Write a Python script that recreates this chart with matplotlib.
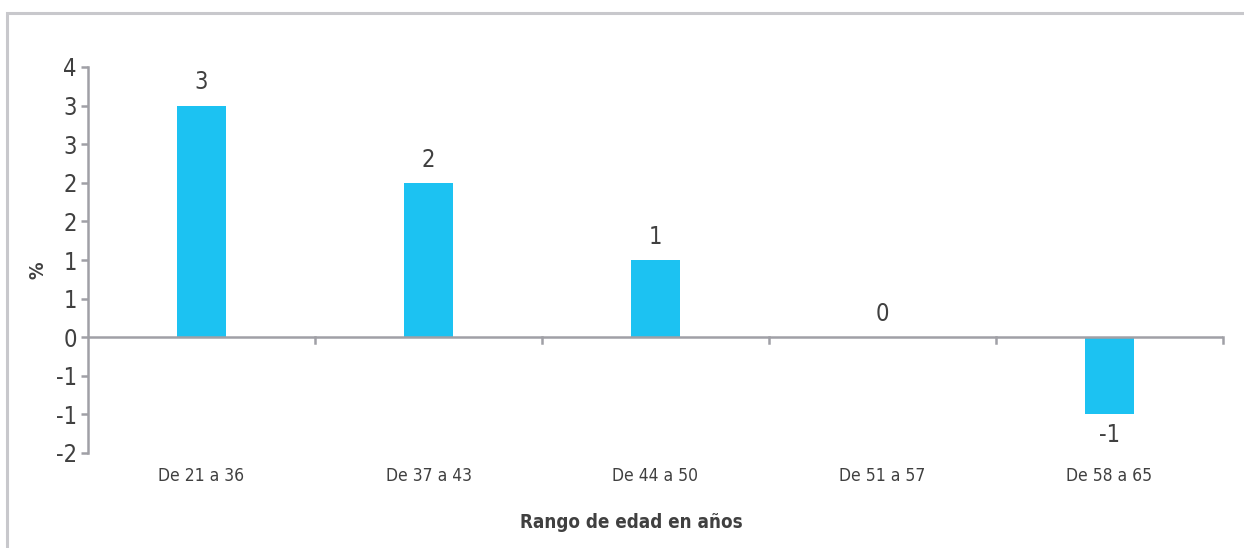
import math
import matplotlib
matplotlib.use('Agg')
import matplotlib.pyplot as plt
from matplotlib.ticker import FixedLocator, FuncFormatter
from matplotlib.patches import Rectangle

plt.rcParams['font.family'] = ['DejaVu Sans']
plt.rcParams['font.stretch'] = 'condensed'

categories = ['De 21 a 36', 'De 37 a 43', 'De 44 a 50', 'De 51 a 57', 'De 58 a 65']
values = [3, 2, 1, 0, -1]
y_ticks = [-1.5, -1.0, -0.5, 0.0, 0.5, 1.0, 1.5, 2.0, 2.5, 3.0, 3.5]

bar_color = '#1cc2f2'
axis_color = '#a0a0a6'
text_color = '#404040'

fig = plt.figure(figsize=(12.44, 5.48), dpi=100)
ax = fig.add_axes([88 / 1244, 1 - 453 / 548, (1223 - 88) / 1244, (453 - 67) / 548])

# outer frame of the chart area (runs off the right and bottom edges)
fig.patches.append(Rectangle((7 / 1244, -0.1), 1.2, 1.1 - 13 / 548, transform=fig.transFigure,
                             fill=False, edgecolor='#c8c8cc', linewidth=2.2))

x = list(range(len(categories)))
bars = ax.bar(x, values, width=0.216, color=bar_color, zorder=2)

ax.set_xlim(-0.5, len(categories) - 0.5)
ax.set_ylim(y_ticks[0], y_ticks[-1])


def round_label(v, pos=None):
    r = math.copysign(math.floor(abs(v) + 0.5), v)
    return '%d' % r


ax.yaxis.set_major_locator(FixedLocator(y_ticks))
ax.yaxis.set_major_formatter(FuncFormatter(round_label))

for spine in ['top', 'right', 'bottom']:
    ax.spines[spine].set_visible(False)
ax.spines['left'].set_color(axis_color)
ax.spines['left'].set_linewidth(1.8)

# zero line with category boundary ticks
ax.axhline(0, color=axis_color, linewidth=1.8, zorder=3)
for b in [i + 0.5 for i in x]:
    ax.plot([b, b], [0, -0.07], color=axis_color, linewidth=1.8, zorder=3, clip_on=False)

ax.tick_params(axis='y', length=5, width=1.8, color=axis_color, labelsize=17,
               labelcolor=text_color, pad=3)
ax.tick_params(axis='x', length=0, labelsize=12.5, labelcolor=text_color, pad=10)
ax.set_xticks(x)
ax.set_xticklabels(categories)

for xi, v in zip(x, values):
    if v >= 0:
        ax.annotate(str(v), (xi, v), xytext=(0, 8), textcoords='offset points',
                    ha='center', va='bottom', fontsize=17, color=text_color)
    else:
        ax.annotate(str(v), (xi, v), xytext=(0, -6), textcoords='offset points',
                    ha='center', va='top', fontsize=17, color=text_color)

fig.text(38 / 1244, 1 - 270 / 548, '%', rotation=90, ha='center', va='center',
         fontsize=14, fontweight='bold', color=text_color)
fig.text(631 / 1244, 1 - 523 / 548, 'Rango de edad en años', ha='center', va='center',
         fontsize=13.5, fontweight='bold', color=text_color)

fig.savefig('out.png', dpi=100)
